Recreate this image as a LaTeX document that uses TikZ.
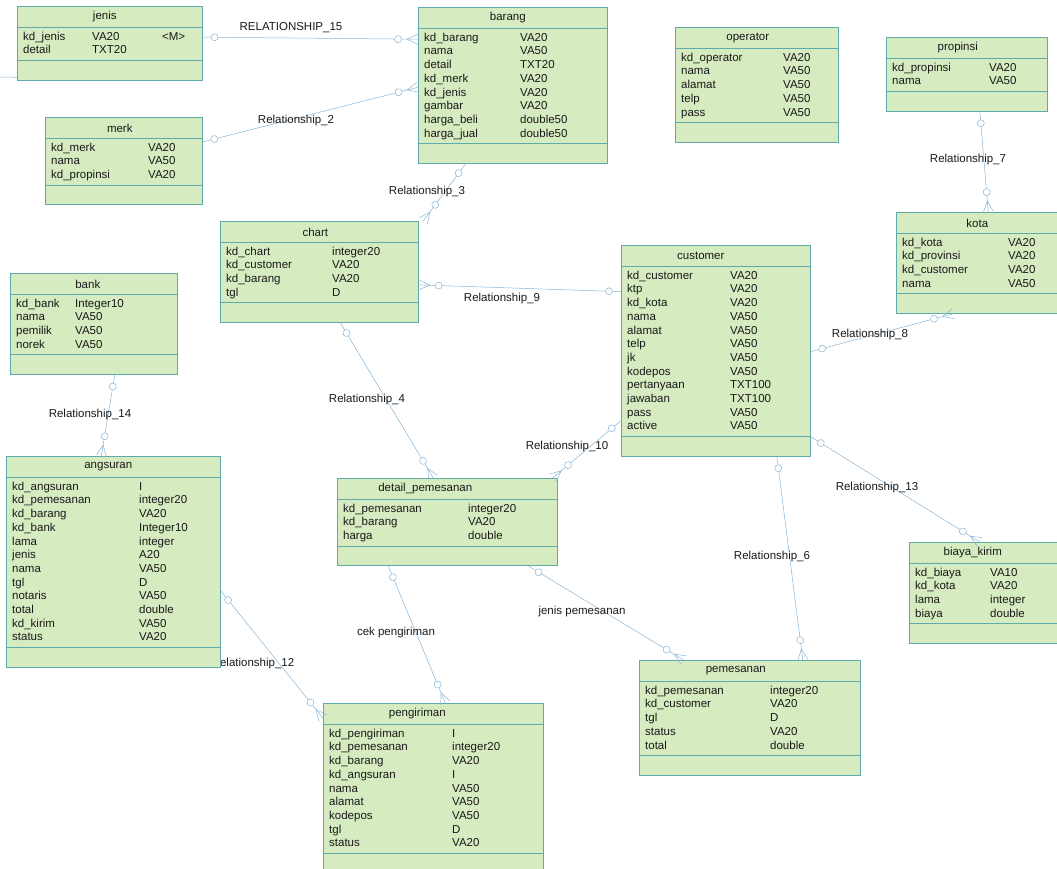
\documentclass[tikz,border=0pt]{standalone}
\usepackage{fontspec}
\setmainfont{Liberation Sans}
\usetikzlibrary{calc,decorations.markings}

\definecolor{hijau}{RGB}{215,235,193}
\definecolor{tepi}{RGB}{95,170,170}
\definecolor{relbiru}{RGB}{135,180,215}
\definecolor{teks}{RGB}{25,25,25}

\tikzset{
	tabelbox/.style={draw=tepi, fill=hijau, line width=0.6pt, anchor=north west, inner sep=0pt},
	judul/.style={text=teks, inner sep=0pt, font=\fontsize{11.5}{13}\selectfont},
	atribut/.style={judul, anchor=west, text height=8.5pt, text depth=2pt},
	relteks/.style={judul},
	sekat/.style={draw=tepi, line width=0.6pt},
	rel/.style={draw=relbiru, line width=0.5pt, postaction={decorate},
		decoration={markings, mark=at position 12pt with {\draw[relbiru, fill=white, line width=0.5pt] (0,0) circle (3.5pt);}}},
	banyak/.style={decoration={mark=at position -20pt with {\draw[relbiru, fill=white, line width=0.5pt] (0,0) circle (3.5pt);},
		mark=at position -0.1pt with {\draw[relbiru, line width=0.5pt] (-11pt,0) -- (0,5pt) (-11pt,0) -- (0,-5pt);}}}
}

% #1 nama, #2 kiri, #3 atas, #4 lebar, #5 jumlah baris, #6 kolom tipe, #7 judul, #8 geser judul, #9 baris
\newcommand{\tabel}[9]{%
	\pgfmathsetmacro{\tinggi}{60+(#5-1)*13.7}
	\node[tabelbox, minimum width=#4pt, minimum height=\tinggi pt] (#1) at (#2,#3) {};
	\node[judul] (#1-judul) at ($(#1.north)+(#8,11)$) {#7};
	\draw[sekat] ($(#1.north west)+(0,21)$) -- ($(#1.north east)+(0,21)$);
	\draw[sekat] ($(#1.south west)+(0,-20)$) -- ($(#1.south east)+(0,-20)$);
	\foreach \kolom/\tipe [count=\i] in {#9}{
		\node[atribut] (#1-k\i) at ($(#1.north west)+(6,{31+(\i-1)*13.7})$) {\kolom};
		\node[atribut] (#1-t\i) at ($(#1.north west)+(#6,{31+(\i-1)*13.7})$) {\tipe};
	}
}

\begin{document}
\begin{tikzpicture}[x=1pt, y=-1pt]
	\useasboundingbox (0,0) rectangle (1057,868);
	\clip (0,0) rectangle (1057,868);
	
	\node[relteks] (l12) at (253,664) {Relationship\_12};
	
	\tabel{jenis}{17}{6}{185}{2}{75}{jenis}{-5}{kd\_jenis/VA20, detail/TXT20}
	\node[atribut] (jenis-m) at ($(jenis.north west)+(145,31)$) {<M>};
	\tabel{merk}{45}{117}{157}{3}{103}{merk}{-4}{kd\_merk/VA20, nama/VA50, kd\_propinsi/VA20}
	\tabel{barang}{418}{7}{189}{8}{102}{barang}{-5}{kd\_barang/VA20, nama/VA50, detail/TXT20, kd\_merk/VA20, kd\_jenis/VA20, gambar/VA20, harga\_beli/double50, harga\_jual/double50}
	\tabel{operator}{675}{27}{163}{5}{108}{operator}{-9}{kd\_operator/VA20, nama/VA50, alamat/VA50, telp/VA50, pass/VA50}
	\tabel{propinsi}{886}{37}{161}{2}{103}{propinsi}{-9}{kd\_propinsi/VA20, nama/VA50}
	\tabel{kota}{896}{212}{174}{4}{112}{kota}{-6}{kd\_kota/VA20, kd\_provinsi/VA20, kd\_customer/VA20, nama/VA50}
	\tabel{customer}{621}{245}{189}{12}{109}{customer}{-15}{kd\_customer/VA20, ktp/VA20, kd\_kota/VA20, nama/VA50, alamat/VA50, telp/VA50, jk/VA50, kodepos/VA50, pertanyaan/TXT100, jawaban/TXT100, pass/VA50, active/VA50}
	\tabel{chart}{220}{221}{198}{4}{112}{chart}{-4}{kd\_chart/integer20, kd\_customer/VA20, kd\_barang/VA20, tgl/D}
	\tabel{bank}{10}{273}{167}{4}{65}{bank}{-6}{kd\_bank/Integer10, nama/VA50, pemilik/VA50, norek/VA50}
	\tabel{angsuran}{6}{456}{214}{12}{133}{angsuran}{-5}{kd\_angsuran/I, kd\_pemesanan/integer20, kd\_barang/VA20, kd\_bank/Integer10, lama/integer, jenis/A20, nama/VA50, tgl/D, notaris/VA50, total/double, kd\_kirim/VA50, status/VA20}
	\tabel{detail}{337}{478}{220}{3}{131}{detail\_pemesanan}{-22}{kd\_pemesanan/integer20, kd\_barang/VA20, harga/double}
	\tabel{biaya}{909}{542}{161}{4}{81}{biaya\_kirim}{-17}{kd\_biaya/VA10, kd\_kota/VA20, lama/integer, biaya/double}
	\tabel{pemesanan}{639}{660}{221}{5}{131}{pemesanan}{-14}{kd\_pemesanan/integer20, kd\_customer/VA20, tgl/D, status/VA20, total/double}
	\tabel{pengiriman}{323}{703}{220}{9}{129}{pengiriman}{-16}{kd\_pengiriman/I, kd\_pemesanan/integer20, kd\_barang/VA20, kd\_angsuran/I, nama/VA50, alamat/VA50, kodepos/VA50, tgl/D, status/VA20}
	
	% relasi
	\coordinate (lepas) at (0,77);
	\draw[relbiru, line width=0.5pt] (lepas) -- ($(jenis.south west)+(0,-3)$);
	\draw[rel, banyak] ($(jenis.east)+(0,-6)$) -- ($(barang.west)+(0,-46)$);
	\draw[rel, banyak] ($(merk.east)+(0,-19)$) -- ($(barang.west)+(0,2)$);
	\draw[rel, banyak] ($(barang.south)+(-47,0)$) -- ($(chart.north)+(104,0)$);
	\draw[rel, banyak] ($(propinsi.south)+(13,0)$) -- ($(kota.north)+(5,0)$);
	\draw[rel, banyak] ($(customer.east)+(0,1)$) -- ($(kota.south)+(-30,0)$);
	\draw[rel, banyak] ($(customer.west)+(0,-59)$) -- ($(chart.east)+(0,13)$);
	\draw[rel, banyak] ($(chart.south)+(21,0)$) -- ($(detail.north)+(-14,0)$);
	\draw[rel, banyak] ($(customer.west)+(0,70)$) -- ($(detail.north east)+(-5,0)$);
	\draw[rel, banyak] ($(customer.east)+(0,86)$) -- ($(biaya.north)+(-10,0)$);
	\draw[rel, banyak] ($(customer.south)+(61,0)$) -- ($(pemesanan.north)+(53,0)$);
	\draw[rel, banyak] ($(detail.south)+(81,0)$) -- ($(pemesanan.north)+(-66,0)$);
	\draw[rel, banyak] ($(detail.south)+(-59,0)$) -- ($(pengiriman.north)+(12,0)$);
	\draw[rel, banyak] ($(angsuran.east)+(0,29)$) -- ($(pengiriman.west)+(0,-70)$);
	\draw[rel, banyak] ($(bank.south)+(21,0)$) -- ($(angsuran.north)+(-12,0)$);
	
	\node[relteks] (l15) at (291,28) {RELATIONSHIP\_15};
	\node[relteks] (l2) at (296,121) {Relationship\_2};
	\node[relteks] (l3) at (427,192) {Relationship\_3};
	\node[relteks] (l7) at (968,160) {Relationship\_7};
	\node[relteks] (l8) at (870,335) {Relationship\_8};
	\node[relteks] (l9) at (502,299) {Relationship\_9};
	\node[relteks] (l4) at (367,400) {Relationship\_4};
	\node[relteks] (l10) at (567,447) {Relationship\_10};
	\node[relteks] (l13) at (877,488) {Relationship\_13};
	\node[relteks] (l6) at (772,557) {Relationship\_6};
	\node[relteks] (ljp) at (582,612) {jenis pemesanan};
	\node[relteks] (lcek) at (396,633) {cek pengiriman};
	\node[relteks] (l14) at (90,415) {Relationship\_14};
\end{tikzpicture}
\end{document}
